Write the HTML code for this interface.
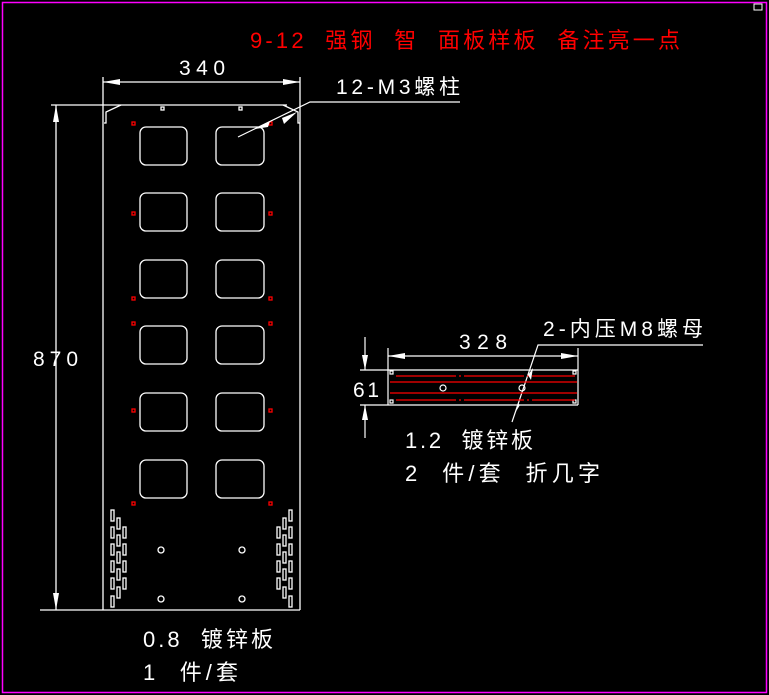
<!DOCTYPE html>
<html><head><meta charset="utf-8"><style>
html,body{margin:0;padding:0;background:#000;}
svg{display:block}
text{font-family:"Liberation Sans","Noto Sans CJK SC",sans-serif;white-space:pre;}
</style></head><body>
<svg width="769" height="695" viewBox="0 0 769 695" xmlns="http://www.w3.org/2000/svg">
<rect x="0" y="0" width="769" height="695" fill="#000"/>
<rect x="2.5" y="2.5" width="764" height="690" fill="none" stroke="#ff00ff" stroke-width="1.5"/>
<rect x="754" y="4" width="8" height="6" fill="none" stroke="#fff" stroke-width="1"/>
<text x="250" y="48" fill="#ff0000" font-size="22" textLength="430">9-12  强钢  智  面板样板  备注亮一点</text>

<g stroke="#fff" stroke-width="1.3" fill="none">
<line x1="103" y1="77" x2="103" y2="105"/>
<line x1="300" y1="77" x2="300" y2="105"/>
<line x1="103" y1="82" x2="300" y2="82"/>
<line x1="51" y1="105" x2="287" y2="105"/>
<line x1="40" y1="610" x2="103" y2="610"/>
<line x1="56" y1="105" x2="56" y2="610"/>
<line x1="103" y1="105" x2="103" y2="610"/>
<line x1="300" y1="105" x2="300" y2="610"/>
<line x1="103" y1="610" x2="300" y2="610"/>
<polyline points="104,123 106,123 106,112 121,105"/>
<polyline points="283,105 298,112 298,123 300,123"/>
<rect x="161" y="107" width="3" height="3"/>
<rect x="239" y="107" width="3" height="3"/>
</g>
<g fill="#fff">
<polygon points="103,82 120,79 120,85"/>
<polygon points="300,82 283,79 283,85"/>
<polygon points="56,105 53,122 59,122"/>
<polygon points="56,610 53,593 59,593"/>
</g>
<g stroke="#fff" stroke-width="1.3" fill="none">
<rect x="140" y="127" width="47" height="38" rx="6"/><rect x="216" y="127" width="48" height="38" rx="6"/>
<rect x="140" y="193" width="47" height="38" rx="6"/><rect x="216" y="193" width="48" height="38" rx="6"/>
<rect x="140" y="260" width="47" height="38" rx="6"/><rect x="216" y="260" width="48" height="38" rx="6"/>
<rect x="140" y="326" width="47" height="38" rx="6"/><rect x="216" y="326" width="48" height="38" rx="6"/>
<rect x="140" y="393" width="47" height="38" rx="6"/><rect x="216" y="393" width="48" height="38" rx="6"/>
<rect x="140" y="460" width="47" height="38" rx="6"/><rect x="216" y="460" width="48" height="38" rx="6"/>
<circle cx="161" cy="550" r="3"/><circle cx="242" cy="550" r="3"/>
<circle cx="161" cy="599" r="3"/><circle cx="242" cy="599" r="3"/>
<rect x="111" y="510" width="3" height="11"/><rect x="111" y="527" width="3" height="11"/><rect x="111" y="544" width="3" height="11"/><rect x="111" y="561" width="3" height="11"/><rect x="111" y="578" width="3" height="11"/><rect x="111" y="596" width="3" height="11"/>
<rect x="117" y="518" width="3" height="11"/><rect x="117" y="535" width="3" height="11"/><rect x="117" y="552" width="3" height="11"/><rect x="117" y="569" width="3" height="11"/><rect x="117" y="587" width="3" height="11"/>
<rect x="123" y="527" width="3" height="11"/><rect x="123" y="544" width="3" height="11"/><rect x="123" y="561" width="3" height="11"/><rect x="123" y="578" width="3" height="11"/>
<rect x="289" y="510" width="3" height="11"/><rect x="289" y="527" width="3" height="11"/><rect x="289" y="544" width="3" height="11"/><rect x="289" y="561" width="3" height="11"/><rect x="289" y="578" width="3" height="11"/><rect x="289" y="596" width="3" height="11"/>
<rect x="283" y="518" width="3" height="11"/><rect x="283" y="535" width="3" height="11"/><rect x="283" y="552" width="3" height="11"/><rect x="283" y="569" width="3" height="11"/><rect x="283" y="587" width="3" height="11"/>
<rect x="277" y="527" width="3" height="11"/><rect x="277" y="544" width="3" height="11"/><rect x="277" y="561" width="3" height="11"/><rect x="277" y="578" width="3" height="11"/>
</g>
<g stroke="#ff0000" stroke-width="1.3" fill="none">
<rect x="132" y="122" width="3" height="3"/><rect x="269" y="122" width="3" height="3"/>
<rect x="132" y="212" width="3" height="3"/><rect x="269" y="212" width="3" height="3"/>
<rect x="132" y="297" width="3" height="3"/><rect x="269" y="297" width="3" height="3"/>
<rect x="132" y="322" width="3" height="3"/><rect x="269" y="322" width="3" height="3"/>
<rect x="132" y="409" width="3" height="3"/><rect x="269" y="409" width="3" height="3"/>
<rect x="132" y="502" width="3" height="3"/><rect x="269" y="502" width="3" height="3"/>
</g>
<g stroke="#fff" stroke-width="1.2" fill="none">
<polyline points="238,137 310,102 460,102"/>
</g>
<polygon points="255,129 270,121 268,127" fill="#fff"/>
<polygon points="297,112 282,118 284,124" fill="#fff"/>
<text x="336" y="94" fill="#fff" font-size="21" textLength="124">12-M3螺柱</text>
<text x="179" y="75" fill="#fff" font-size="21" textLength="46">340</text>
<text x="33" y="366" fill="#fff" font-size="21" textLength="45">870</text>
<text x="143" y="647" fill="#fff" font-size="22" textLength="130">0.8  镀锌板</text>
<text x="143" y="680" fill="#fff" font-size="22" textLength="95">1  件/套</text>

<g stroke="#fff" stroke-width="1.2" fill="none">
<line x1="388" y1="348" x2="388" y2="405"/>
<line x1="578" y1="348" x2="578" y2="405"/>
<line x1="388" y1="356" x2="578" y2="356"/>
<line x1="360" y1="370" x2="578" y2="370"/>
<line x1="360" y1="405" x2="578" y2="405"/>
<line x1="365" y1="337" x2="365" y2="370"/>
<line x1="365" y1="405" x2="365" y2="438"/>
<rect x="390" y="371" width="3" height="3"/><rect x="573" y="371" width="3" height="3"/>
<rect x="390" y="400" width="3" height="3"/><rect x="573" y="400" width="3" height="3"/>
<circle cx="443" cy="388" r="3"/><circle cx="522" cy="388" r="3"/>
<polyline points="512,422 538,345 703,345"/>
</g>
<g stroke="#ff0000" stroke-width="1.3">
<line x1="396" y1="376" x2="575" y2="376" stroke-dasharray="60,3,2,3"/>
<line x1="390" y1="382" x2="577" y2="382"/>
<line x1="390" y1="393" x2="577" y2="393"/>
<line x1="396" y1="400" x2="575" y2="400" stroke-dasharray="60,3,2,3"/>
</g>
<g fill="#fff">
<polygon points="388,356 405,353 405,359"/>
<polygon points="578,356 561,353 561,359"/>
<polygon points="365,370 362,355 368,355"/>
<polygon points="365,405 362,420 368,420"/>
<polygon points="528,375 533,368 531,380"/>
<polygon points="518,403 515,413 520,405"/>
</g>
<text x="459" y="349" fill="#fff" font-size="21" textLength="48">328</text>
<text x="353" y="397" fill="#fff" font-size="21" textLength="26">61</text>
<text x="543" y="336" fill="#fff" font-size="21" textLength="160">2-内压M8螺母</text>
<text x="405" y="448" fill="#fff" font-size="22" textLength="128">1.2  镀锌板</text>
<text x="405" y="481" fill="#fff" font-size="22" textLength="195">2  件/套  折几字</text>
</svg>
</body></html>
